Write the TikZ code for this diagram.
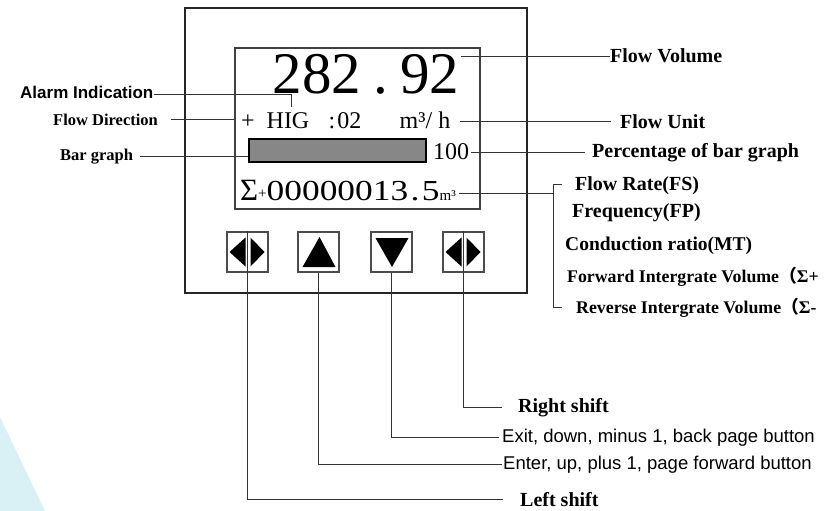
\documentclass[tikz,border=0pt]{standalone}
\usepackage{fontspec}
\setmainfont{Liberation Serif}
\setsansfont{Liberation Sans}
\newfontfamily\cjk{Noto Sans CJK SC}
\usepackage{tikz}
\usetikzlibrary{calc,positioning}
\definecolor{wmcyan}{RGB}{217,241,244}
\definecolor{bargray}{RGB}{135,135,135}
\newcommand{\setsz}[1]{\fontsize{#1}{#1}\selectfont}

% --- SHIFT KEY GLYPH MACRO ---
\newcommand{\shiftglyph}[1]{
  \begin{scope}[shift={(#1)}]
    \fill (-18,0) -- (-2,-14.5) -- (-2,14.5) -- cycle;
    \fill (17,0) -- (3,-14.5) -- (3,14.5) -- cycle;
  \end{scope}
}

\begin{document}
\begin{tikzpicture}[x=1pt,y=-1pt]

% --- STYLES ---
\tikzset{
  tag/.style={font=\setsz{20}\bfseries, anchor=base west, inner sep=0pt},
  smalltag/.style={tag, font=\setsz{16.5}\bfseries},
  sanstag/.style={font=\sffamily\setsz{18.5}, anchor=base west, inner sep=0pt},
  lcd/.style={font=\setsz{24}, anchor=base, inner sep=0pt},
  panel/.style={draw=black!85, line width=1.3pt},
  btn/.style={draw=black!70, line width=1.2pt, minimum width=41pt,
              minimum height=40pt, inner sep=0pt},
  leader/.style={black!80, line width=1pt},
}

\useasboundingbox (0,0) rectangle (838,511);
\fill[wmcyan] (0,417) -- (45,511) -- (0,511) -- cycle;

% ================= HOUSING & SCREEN =================
\node[panel, minimum width=342pt, minimum height=285pt] (case) at (356,150.5) {};
\node[panel, draw=black!75, minimum width=245pt, minimum height=161pt] (scr) at (357.5,128.5) {};

% ================= DISPLAY CONTENT =================
\node[lcd, font=\setsz{59}] (fv) at (366,93) {282\kern12pt.\kern12pt92};
\node[lcd] (dir)  at (248,128) {+};
\node[lcd] (hig)  at (288,128) {HIG};
\node[lcd] (cnt)  at (345,128) {:\kern2pt02};
\node[lcd] (unit) at (425,128) {m³/\kern6pt h};
\node[draw=black, line width=2.2pt, fill=bargray, minimum width=177pt,
      minimum height=23pt, inner sep=0pt] (bar) at (337.5,150.5) {};
\node[lcd] (pct)  at (451,159) {100};
\node[lcd, anchor=base west] (sum) at (240,200)
  {{\setsz{31}Σ}\raisebox{2pt}{\setsz{15}+}\scalebox{1.22}[1]{\setsz{29}00000013\kern2pt.\kern2pt5}{\setsz{15}m³}};

% ================= KEYS =================
\node[btn] (b1) at (247.5,252) {};
\node[btn] (b2) at (318.5,252) {};
\node[btn] (b3) at (391.5,252) {};
\node[btn] (b4) at (463.5,252) {};
\shiftglyph{b1}
\shiftglyph{b4}
\fill ($(b2)+(1,-15)$) -- ($(b2)+(-16,15)$) -- ($(b2)+(17,15)$) -- cycle;
\fill ($(b3)+(-16,-14)$) -- ($(b3)+(17,-14)$) -- ($(b3)+(0.5,15)$) -- cycle;

% ================= LEFT LABELS =================
\node[sanstag, font=\sffamily\setsz{17}\bfseries] (al) at (20,98) {Alarm Indication};
\node[smalltag] (fd) at (53,125) {Flow Direction};
\node[smalltag] (bg) at (60,160) {Bar graph};

% ================= RIGHT LABELS =================
\node[tag] (fvl)  at (610,63)  {Flow Volume};
\node[tag] (ful)  at (620,128) {Flow Unit};
\node[tag] (pctl) at (592,157) {Percentage of bar graph};
\node[tag] (fs)   at (575,190) {Flow Rate(FS)};
\node[tag] (fp)   at (572,217) {Frequency(FP)};
\node[tag, font=\setsz{19.5}\bfseries] (mt) at (565,250) {Conduction ratio(MT)};
\node[smalltag, font=\setsz{17.8}\bfseries] (fwd) at (567,282) {Forward Intergrate Volume{\cjk （}Σ+};
\node[smalltag, font=\setsz{17.8}\bfseries] (rev) at (576,313) {Reverse Intergrate Volume{\cjk （}Σ-};

% ================= KEY LABELS =================
\node[tag] (rs) at (518,412) {Right shift};
\node[sanstag] (ex) at (502,442) {Exit, down, minus 1, back page button};
\node[sanstag] (en) at (503,469) {Enter, up, plus 1, page forward button};
\node[tag] (ls) at (520,506) {Left shift};

% ================= LEADER LINES =================
\coordinate (almk) at (291,107);
\draw[leader] ([yshift=-3pt]al.east) -| (almk);
\draw[leader, shorten <=13pt] (fd.east) -- (fd.east -| scr.west);
\draw[leader, shorten <=7pt] (bg.east) -- (bg.east -| bar.west);

\draw[leader, shorten <=2pt] (fv.east |- fvl.west) -- (fvl.west);
\draw[leader, shorten <=10pt, shorten >=9pt] (unit.east |- ful.west) -- (ful.west);
\draw[leader, shorten <=2pt, shorten >=7pt] (pct.east |- pctl.west) -- (pctl.west);

\coordinate (brt) at (553,184);
\coordinate (brb) at (553,307);
\draw[leader, shorten <=3pt] ([yshift=-3pt]sum.east) -- ([yshift=-3pt]sum.east -| brt);
\draw[leader] ([xshift=9pt]brt) -- (brt) -- (brb) -- ([xshift=9pt]brb);

\draw[leader, shorten >=16pt] (b4.north) |- (rs.west);
\draw[leader, shorten >=3pt]  (b3.south) |- (ex.west);
\draw[leader, shorten >=1pt]  (b2.south) |- (en.west);
\draw[leader, shorten >=17pt] (b1.north) |- (ls.west);

\end{tikzpicture}
\end{document}
